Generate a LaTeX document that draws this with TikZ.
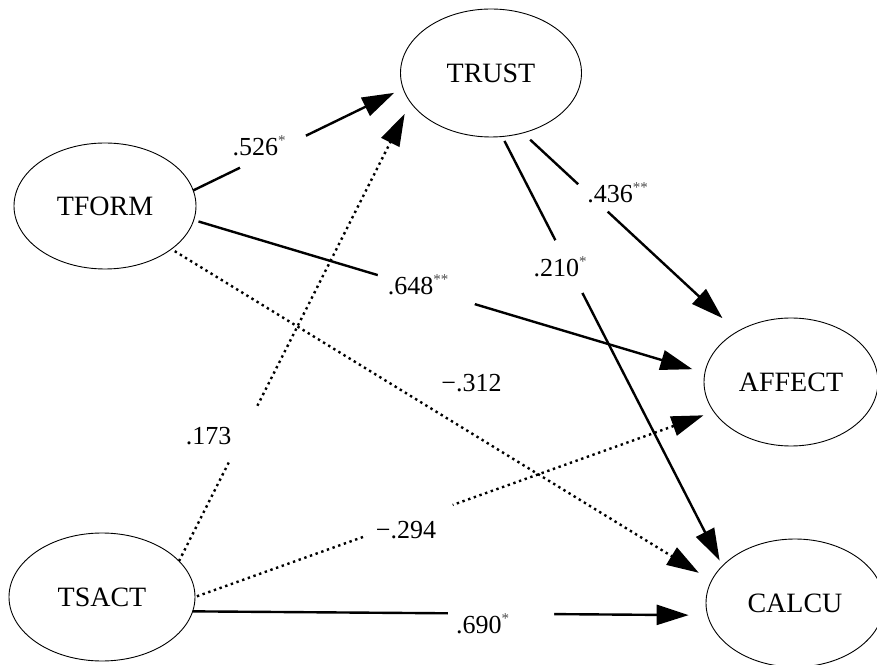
\documentclass[tikz,border=0pt]{standalone}
\usepackage{fontspec}
\setmainfont{Liberation Serif}
\usetikzlibrary{shapes.geometric,arrows.meta}
\newcommand\sig[1]{\raisebox{10pt}{\textcolor{black!70}{\fontsize{15}{15}\selectfont #1}}}
\begin{document}
\begin{tikzpicture}[x=1pt,y=1pt,
  latent/.style={ellipse,draw,line width=0.9pt,inner sep=0pt,outer sep=0pt,
    font=\fontsize{28}{28}\selectfont},
  solidarrow/.style={line width=2.4pt,-{Triangle[length=32pt,width=20pt]}},
  dotarrow/.style={line width=2.4pt,dash pattern=on 2.4pt off 3.6pt,-{Triangle[length=32pt,width=20pt]}},
  gapbox/.style={sloped,fill=white,draw=none,inner sep=0pt,outer sep=0pt,minimum height=7pt},
  lbl/.style={anchor=base,inner sep=0pt,font=\fontsize{26}{26}\selectfont}]
\useasboundingbox (0,0) rectangle (877,664);
\node[latent,minimum width=181pt,minimum height=128pt] (trust) at (491,591) {TRUST};
\node[latent,minimum width=182pt,minimum height=126pt] (tform) at (105,458) {TFORM};
\node[latent,minimum width=174pt,minimum height=128pt] (affect) at (791,282) {AFFECT};
\node[latent,minimum width=186pt,minimum height=128pt] (tsact) at (102,67) {TSACT};
\node[latent,minimum width=178pt,minimum height=128pt] (calcu) at (795,61) {CALCU};
% edges
\draw[solidarrow,shorten >=10pt] (tform.10) -- node[gapbox,pos=.38,minimum width=73pt] (g1) {} (trust.190);
\draw[dotarrow,shorten >=13pt] (tsact.25) -- node[gapbox,pos=.278,minimum width=59pt] (g2) {} (trust.200);
\draw[solidarrow,shorten <=5pt,shorten >=13pt] (tform.-9) -- node[gapbox,pos=.455,minimum width=101pt] (g3) {} (affect.174);
\draw[dotarrow,shorten <=4pt,shorten >=15pt] (tform.-33) -- (calcu.165);
\draw[solidarrow,shorten <=10pt,shorten >=20pt] (trust.-62) -- node[gapbox,pos=.327,minimum width=40pt] (g5) {} (affect.137);
\draw[solidarrow,shorten <=5pt,shorten >=6pt] (trust.-80) -- node[gapbox,pos=.303,minimum width=59pt] (g6) {} (calcu.153);
\draw[dotarrow,shorten <=2pt,shorten >=11pt] (tsact.0) -- node[gapbox,pos=.413,minimum width=92pt] (g7) {} (affect.201);
\draw[solidarrow,shorten >=19pt] (tsact.-9) -- node[gapbox,pos=.599,minimum width=106pt] (g8) {} (calcu.188);
% labels
\node[lbl] (l1) at (259,508) {.526\sig{*}};
\node[lbl] (l2) at (208.5,219) {.173};
\node[lbl] (l3) at (418,369) {.648\sig{**}};
\node[lbl] (l4) at (471.5,272) {−.312};
\node[lbl] (l5) at (617.5,461) {.436\sig{**}};
\node[lbl] (l6) at (560,387) {.210\sig{*}};
\node[lbl] (l7) at (406,126) {−.294};
\node[lbl] (l8) at (482.5,31) {.690\sig{*}};
\end{tikzpicture}
\end{document}
